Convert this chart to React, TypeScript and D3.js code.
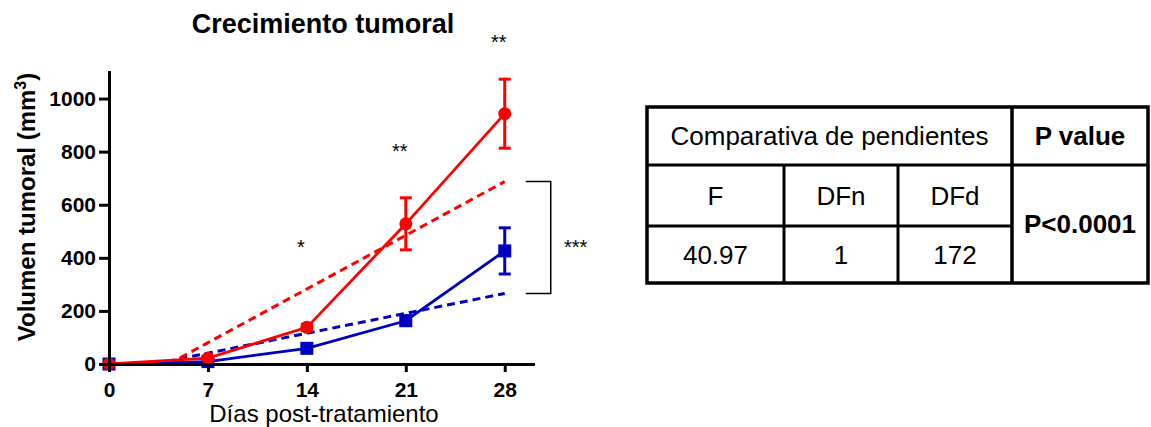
import React, { useEffect, useRef } from "react";
import * as d3 from "d3";

// Tumour volume (mean ± SEM) per day
const days = [0, 7, 14, 21, 28];
const redMean = [0, 22, 138, 528, 943];
const redSem = [0, 4, 12, 98, 130];
const blueMean = [0, 9, 59, 163, 426];
const blueSem = [0, 3, 8, 18, 87];

// Linear regression fits (dashed)
const redFit = { slope: 28.9, intercept: -122 };
const blueFit = { slope: 10.7, intercept: -34 };

const yTicks = [0, 200, 400, 600, 800, 1000];

// Significance marks above points
const stars = [
  { day: 14, value: 456, label: "*" },
  { day: 21, value: 819, label: "**" },
  { day: 28, value: 1229, label: "**" },
];
const slopeStars = "***";

// Table contents
const tableTitle = "Comparativa de pendientes";
const tablePHeader = "P value";
const tableCols = ["F", "DFn", "DFd"];
const tableValues = ["40.97", "1", "172"];
const tablePValue = "P<0.0001";

const FONT = "Arial, 'Liberation Sans', sans-serif";
const RED = "#ff0000";
const BLUE = "#0000c0";

const App = () => {
  const ref = useRef<SVGSVGElement>(null);

  useEffect(() => {
    document.body.style.margin = "0";
    renderChart();
  }, []);

  const renderChart = () => {
    const svg = d3.select(ref.current);
    svg.selectAll("*").remove();

    // Scales
    const x = d3.scaleLinear().domain([0, 30]).range([109, 533]);
    const y = d3.scaleLinear().domain([0, 1100]).range([364, 72]);

    // Title
    svg
      .append("text")
      .attr("x", 323)
      .attr("y", 33)
      .attr("text-anchor", "middle")
      .attr("font-family", FONT)
      .attr("font-size", 27)
      .attr("font-weight", "bold")
      .text("Crecimiento tumoral");

    // Regression fits
    const fitLine = (fit: { slope: number; intercept: number }, color: string) => {
      const start = Math.max(0, -fit.intercept / fit.slope);
      const end = days[days.length - 1];
      svg
        .append("line")
        .attr("x1", x(start))
        .attr("y1", y(fit.slope * start + fit.intercept))
        .attr("x2", x(end))
        .attr("y2", y(fit.slope * end + fit.intercept))
        .attr("stroke", color)
        .attr("stroke-width", 3)
        .attr("stroke-dasharray", "8,5");
    };
    fitLine(blueFit, BLUE);
    fitLine(redFit, RED);

    // Series
    const drawSeries = (mean: number[], sem: number[], color: string, shape: string) => {
      const line = d3
        .line<number>()
        .x((d, i) => x(days[i]))
        .y((d) => y(d));
      svg
        .append("path")
        .datum(mean)
        .attr("d", line)
        .attr("fill", "none")
        .attr("stroke", color)
        .attr("stroke-width", 2.8);

      // Error bars
      const eb = svg.append("g").attr("stroke", color).attr("stroke-width", 3);
      mean.forEach((m, i) => {
        if (sem[i] <= 0) return;
        const cx = x(days[i]);
        eb.append("line").attr("x1", cx).attr("x2", cx).attr("y1", y(m - sem[i])).attr("y2", y(m + sem[i]));
        [m - sem[i], m + sem[i]].forEach((v) => {
          eb.append("line").attr("x1", cx - 6).attr("x2", cx + 6).attr("y1", y(v)).attr("y2", y(v));
        });
      });

      // Markers
      if (shape === "circle") {
        svg
          .selectAll(null)
          .data(mean)
          .enter()
          .append("circle")
          .attr("cx", (d, i) => x(days[i]))
          .attr("cy", (d) => y(d))
          .attr("r", 6.5)
          .attr("fill", color);
      } else {
        svg
          .selectAll(null)
          .data(mean)
          .enter()
          .append("rect")
          .attr("x", (d, i) => x(days[i]) - 6.5)
          .attr("y", (d) => y(d) - 6.5)
          .attr("width", 13)
          .attr("height", 13)
          .attr("fill", color);
      }
    };
    drawSeries(blueMean, blueSem, BLUE, "square");
    drawSeries(redMean, redSem, RED, "circle");

    // Axes
    const gx = svg
      .append("g")
      .attr("transform", `translate(0,${y(0)})`)
      .call(d3.axisBottom(x).tickValues(days).tickSize(8).tickSizeOuter(0).tickPadding(10).tickFormat(d3.format("d")));
    const gy = svg
      .append("g")
      .attr("transform", `translate(${x(0)},0)`)
      .call(d3.axisLeft(y).tickValues(yTicks).tickSize(10).tickSizeOuter(0).tickPadding(3).tickFormat(d3.format("d")));
    [gx, gy].forEach((g) => {
      g.attr("font-family", FONT).attr("font-size", 21).attr("font-weight", "bold");
      g.selectAll("text").attr("fill", "#000");
      g.selectAll("line").attr("stroke", "#000").attr("stroke-width", 3);
      g.select(".domain").attr("stroke", "#000").attr("stroke-width", 3).attr("stroke-linecap", "square");
    });

    // Axis labels
    svg
      .append("text")
      .attr("x", 324)
      .attr("y", 422)
      .attr("text-anchor", "middle")
      .attr("font-family", FONT)
      .attr("font-size", 24)
      .text("Días post-tratamiento");

    const yl = svg
      .append("text")
      .attr("transform", "translate(35,207) rotate(-90)")
      .attr("text-anchor", "middle")
      .attr("font-family", FONT)
      .attr("font-size", 24)
      .attr("font-weight", "bold");
    yl.append("tspan").text("Volumen tumoral (mm");
    yl.append("tspan").attr("dy", -9).attr("font-size", 16).text("3");
    yl.append("tspan").attr("dy", 9).text(")");

    // Stars
    stars.forEach((s) => {
      svg
        .append("text")
        .attr("x", x(s.day) - 6)
        .attr("y", y(s.value) + 11)
        .attr("text-anchor", "middle")
        .attr("font-family", FONT)
        .attr("font-size", 20)
        .text(s.label);
    });

    // Bracket comparing slopes
    const last = days[days.length - 1];
    const yTop = y(redFit.slope * last + redFit.intercept);
    const yBot = y(blueFit.slope * last + blueFit.intercept);
    const bx0 = x(last) + 21;
    const bx1 = x(last) + 46;
    svg
      .append("path")
      .attr("d", `M${bx0},${yTop}H${bx1}V${yBot}H${bx0}`)
      .attr("fill", "none")
      .attr("stroke", "#000")
      .attr("stroke-width", 1.5);
    svg
      .append("text")
      .attr("x", bx1 + 25)
      .attr("y", (yTop + yBot) / 2 + 16)
      .attr("text-anchor", "middle")
      .attr("font-family", FONT)
      .attr("font-size", 20)
      .text(slopeStars);

    // Table
    const cols = [647, 784, 898, 1012, 1148];
    const rows = [107, 165, 226, 283];
    const tg = svg.append("g").attr("stroke", "#000").attr("fill", "none");
    tg.append("rect")
      .attr("x", cols[0])
      .attr("y", rows[0])
      .attr("width", cols[4] - cols[0])
      .attr("height", rows[3] - rows[0])
      .attr("stroke-width", 3.5);
    tg.append("line").attr("x1", cols[0]).attr("x2", cols[4]).attr("y1", rows[1]).attr("y2", rows[1]).attr("stroke-width", 3);
    tg.append("line").attr("x1", cols[0]).attr("x2", cols[3]).attr("y1", rows[2]).attr("y2", rows[2]).attr("stroke-width", 3);
    tg.append("line").attr("x1", cols[1]).attr("x2", cols[1]).attr("y1", rows[1]).attr("y2", rows[3]).attr("stroke-width", 3);
    tg.append("line").attr("x1", cols[2]).attr("x2", cols[2]).attr("y1", rows[1]).attr("y2", rows[3]).attr("stroke-width", 3);
    tg.append("line").attr("x1", cols[3]).attr("x2", cols[3]).attr("y1", rows[0]).attr("y2", rows[3]).attr("stroke-width", 3.5);

    const cellText = (t: string, cx: number, cy: number, bold = false) => {
      svg
        .append("text")
        .attr("x", cx)
        .attr("y", cy + 9)
        .attr("text-anchor", "middle")
        .attr("font-family", FONT)
        .attr("font-size", 26)
        .attr("font-weight", bold ? "bold" : "normal")
        .text(t);
    };
    cellText(tableTitle, (cols[0] + cols[3]) / 2, (rows[0] + rows[1]) / 2);
    cellText(tablePHeader, (cols[3] + cols[4]) / 2, (rows[0] + rows[1]) / 2, true);
    tableCols.forEach((c, i) => cellText(c, (cols[i] + cols[i + 1]) / 2, (rows[1] + rows[2]) / 2));
    tableValues.forEach((v, i) => cellText(v, (cols[i] + cols[i + 1]) / 2, (rows[2] + rows[3]) / 2));
    cellText(tablePValue, (cols[3] + cols[4]) / 2, (rows[1] + rows[3]) / 2, true);
  };

  return <svg ref={ref} width={1151} height={427} style={{ display: "block" }} />;
};

export default App;
